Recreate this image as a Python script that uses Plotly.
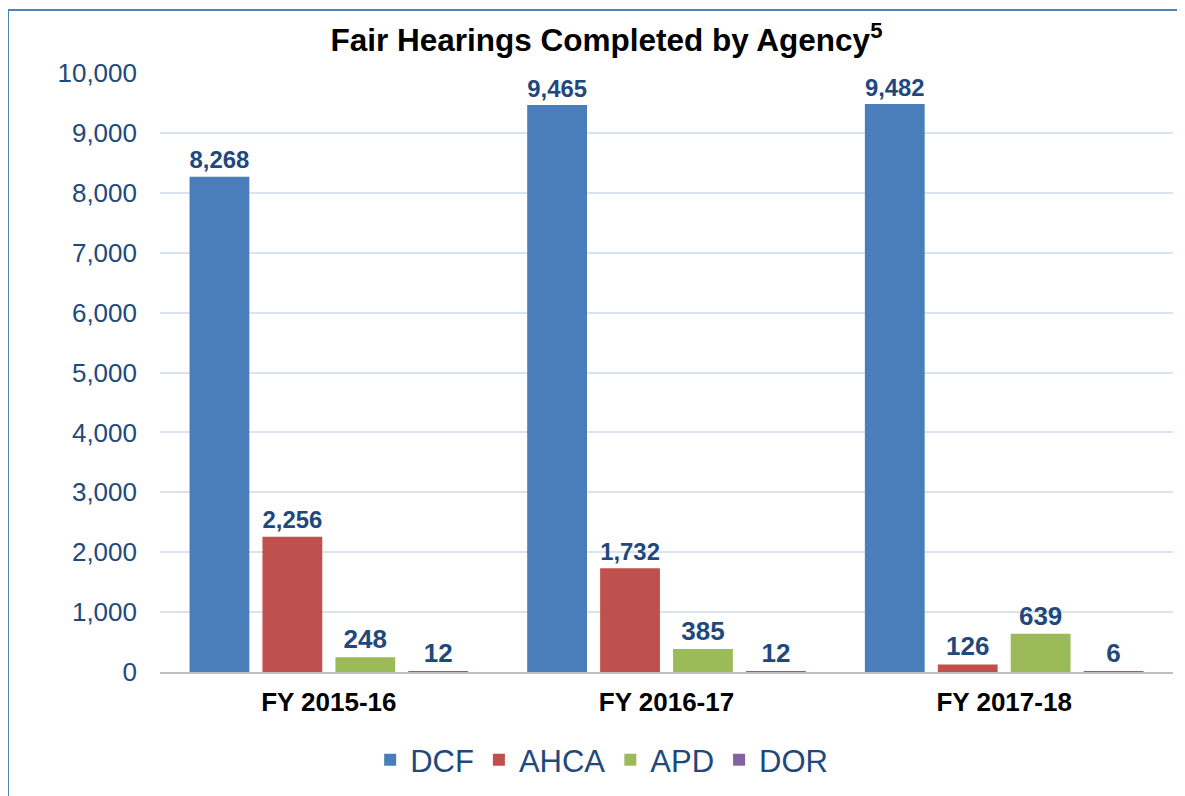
import plotly.graph_objects as go

# ---------------------------------------
# DATA
# ---------------------------------------
years = ["FY 2015-16", "FY 2016-17", "FY 2017-18"]
agencies = ["DCF", "AHCA", "APD", "DOR"]
dcf = [8268, 9465, 9482]
ahca = [2256, 1732, 126]
apd = [248, 385, 639]
dor = [12, 12, 6]

colors = {
    "DCF": "#4a7ebb",
    "AHCA": "#c0504d",
    "APD": "#9bbb59",
    "DOR": "#8064a2",
}
label_color = "#1f497d"
font_family = "Liberation Sans, Arial, sans-serif"

fig = go.Figure()

for name, vals in zip(agencies, [dcf, ahca, apd, dor]):
    fig.add_trace(go.Bar(
        x=years,
        y=vals,
        name=name,
        marker=dict(color=colors[name], line=dict(width=0)),
        texttemplate="<b>%{y:,}</b>",
        textposition="outside",
        textfont=dict(size=26, color=label_color, family=font_family),
        cliponaxis=False,
    ))

# outer frame of the chart
fig.add_shape(
    type="rect", xref="paper", yref="paper",
    x0=-0.15, x1=1.2, y0=-0.5, y1=1.105,
    line=dict(color="#4f81bd", width=2),
    fillcolor="rgba(0,0,0,0)",
    layer="below",
)

# page has an 8px body margin, so margins are shifted to compensate
fig.update_layout(
    width=1185,
    height=796,
    margin=dict(l=152, r=20, t=65, b=132),
    plot_bgcolor="white",
    paper_bgcolor="white",
    font=dict(family=font_family, color=label_color),
    title=dict(
        text="<b>Fair Hearings Completed by Agency<sup>5</sup></b>",
        x=0.505, xref="container", xanchor="center",
        y=0.96, yref="container", yanchor="middle",
        font=dict(size=31.5, color="black", family=font_family),
    ),
    barmode="group",
    bargap=0.136,
    bargroupgap=0.18,
    showlegend=True,
    legend=dict(
        orientation="h",
        x=0.436, xanchor="center",
        y=-0.147, yanchor="middle",
        font=dict(size=31, color=label_color, family=font_family),
        traceorder="normal",
    ),
    xaxis=dict(
        showgrid=False,
        showline=True,
        linecolor="#bfbfbf",
        linewidth=2,
        ticks="",
        tickfont=dict(size=26, color="black", family=font_family),
        ticklabelstandoff=6,
        tickprefix="<b>",
        ticksuffix="</b>",
    ),
    yaxis=dict(
        range=[0, 10000],
        dtick=1000,
        tickformat=",",
        showgrid=True,
        gridcolor="#dae3f0",
        gridwidth=2,
        zeroline=False,
        showline=False,
        ticks="",
        tickfont=dict(size=26, color=label_color, family=font_family),
        ticklabelstandoff=22,
    ),
)

fig.write_html("out.html")
